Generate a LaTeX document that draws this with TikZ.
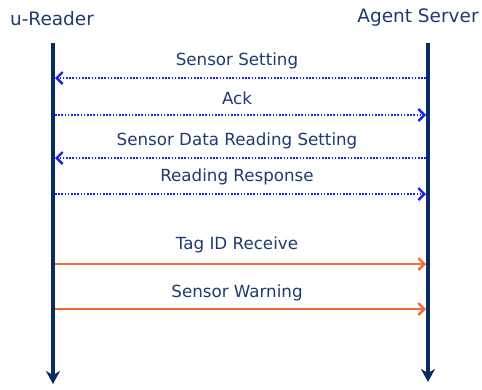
\documentclass[tikz,border=0pt]{standalone}
\usepackage{fontspec}
\setmainfont{DejaVu Sans}
\usetikzlibrary{arrows.meta}
\definecolor{navy}{HTML}{0B2A62}
\definecolor{txtblue}{HTML}{1F3A70}
\definecolor{msgblue}{HTML}{1A22F0}
\definecolor{msgorange}{HTML}{F26A3A}
\begin{document}
\begin{tikzpicture}[x=1pt,y=-1pt,
  lifeline/.style={draw=navy,line width=4pt,-{Stealth[length=13pt,width=14pt,inset=4pt]}},
  actor/.style={text=txtblue,font=\fontsize{18.5}{21}\selectfont,inner sep=0pt},
  msglabel/.style={text=txtblue,font=\fontsize{16.7}{19}\selectfont,inner sep=0pt},
  barb/.style={-{Straight Barb[length=6pt,width=12pt,line width=2.4pt]}},
  dotmsg/.style={draw=msgblue,line width=2.6pt,dash pattern=on 1.6pt off 1.6pt,barb},
  solidmsg/.style={draw=msgorange,line width=2.6pt,barb}]
\useasboundingbox (0,0) rectangle (482,389);
% participants
\node[actor] (reader) at (52,19) {u-Reader};
\node[actor] (server) at (418,18) {Agent Server};
% lifelines
\coordinate (rtop) at (53,43);
\coordinate (rbot) at (53,384);
\coordinate (stop) at (428,43);
\coordinate (sbot) at (428,382);
\draw[lifeline] (rtop) -- (rbot);
\draw[lifeline] (stop) -- (sbot);
% message anchors on the lifelines
\foreach \n/\y in {1/78,2/115,3/158,4/194,5/264,6/309}{
  \coordinate (r\n) at (55,\y);
  \coordinate (s\n) at (426,\y);
}
% messages
\draw[dotmsg] (s1) -- (r1);
\draw[dotmsg] (r2) -- (s2);
\draw[dotmsg] (s3) -- (r3);
\draw[dotmsg] (r4) -- (s4);
\draw[solidmsg] (r5) -- (s5);
\draw[solidmsg] (r6) -- (s6);
% labels
\node[msglabel] (l1) at (237,61) {Sensor Setting};
\node[msglabel] (l2) at (237,98) {Ack};
\node[msglabel] (l3) at (237,141) {Sensor Data Reading Setting};
\node[msglabel] (l4) at (237,177) {Reading Response};
\node[msglabel] (l5) at (237,245) {Tag ID Receive};
\node[msglabel] (l6) at (237,293) {Sensor Warning};
\end{tikzpicture}
\end{document}
